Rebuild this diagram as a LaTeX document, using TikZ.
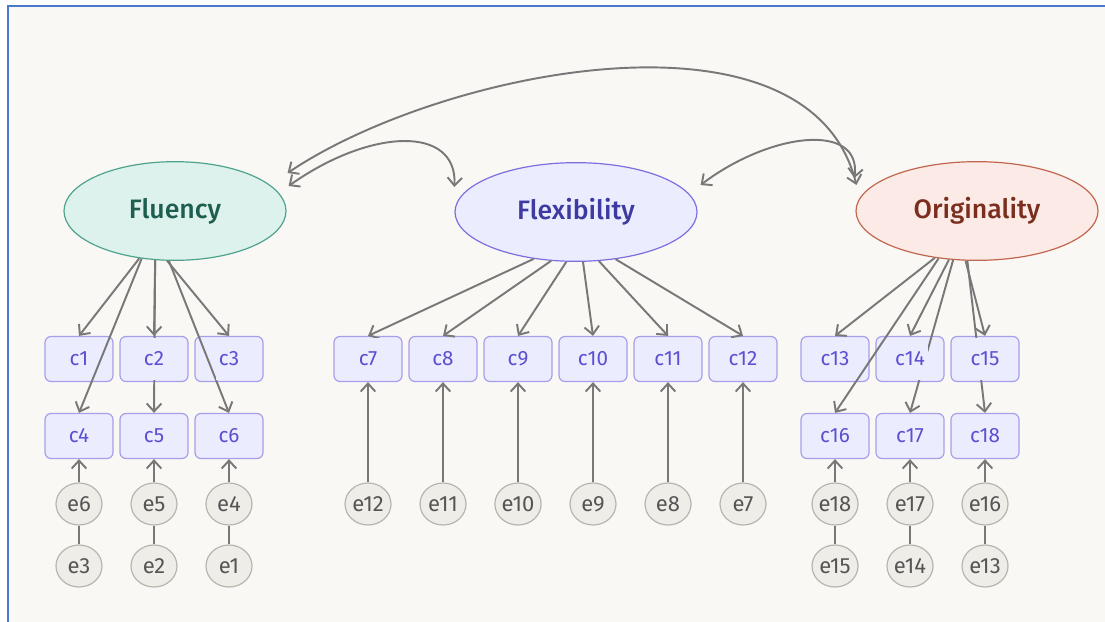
\documentclass[tikz,border=0pt]{standalone}
\usepackage{xcolor}
\usepackage{fontspec}
\setmainfont{Fira Sans}[BoldFont={Fira Sans Medium}]
\usepackage{tikz}
\usetikzlibrary{positioning, arrows.meta, shapes.geometric}

\definecolor{canvas}{HTML}{F9F8F5}
\definecolor{framecol}{HTML}{4A78CC}
\definecolor{flufill}{HTML}{DDF2EC}
\definecolor{fluline}{HTML}{4FA38D}
\definecolor{flutext}{HTML}{1E5E50}
\definecolor{flexfill}{HTML}{ECECFF}
\definecolor{flexline}{HTML}{7B6FE0}
\definecolor{flextext}{HTML}{3D3AA0}
\definecolor{origfill}{HTML}{FBEAE5}
\definecolor{origline}{HTML}{C2674F}
\definecolor{origtext}{HTML}{7A2E1E}
\definecolor{itemfill}{HTML}{ECECFF}
\definecolor{itemline}{HTML}{A79FEA}
\definecolor{itemtext}{HTML}{5A50D0}
\definecolor{errfill}{HTML}{EFEDE8}
\definecolor{errline}{HTML}{B8B5AE}
\definecolor{errtext}{HTML}{555555}
\definecolor{edgecol}{HTML}{787878}

\begin{document}
\begin{tikzpicture}[
    x=0.75pt, y=-0.75pt,
    % Define common styles
        latent/.style={draw, ellipse, line width=0.9pt, minimum width=181.5pt, minimum height=74pt, font=\fontsize{20}{24}\selectfont\bfseries},
        item/.style={draw=itemline, fill=itemfill, rectangle, rounded corners=4.5pt, line width=0.9pt, minimum width=51pt, minimum height=33.75pt},
        tag/.style={fill=itemfill, inner xsep=2.25pt, inner ysep=0pt, minimum height=31.5pt, text=itemtext, font=\fontsize{15.5}{18}\selectfont},
        err/.style={draw=errline, fill=errfill, ellipse, line width=0.9pt, inner sep=0pt, minimum width=34.5pt, minimum height=31.5pt, text=errtext, font=\fontsize{16.5}{19}\selectfont},
        arrow/.style={-{Straight Barb[length=6pt, width=11pt]}, draw=edgecol, line width=1.45pt},
        covar/.style={{Straight Barb[length=6pt, width=11pt]}-{Straight Barb[length=6pt, width=11pt]}, draw=edgecol, line width=1.45pt},
        link/.style={draw=edgecol, line width=1.45pt}
    ]

        % Page and canvas
        \useasboundingbox (0,0) rectangle (1105,621);
        \fill[white] (0,0) rectangle (1105,621);
        \fill[canvas] (8,6) rectangle (1115,630);
        \draw[framecol, line width=1.5pt] (1115,6) -- (8,6) -- (8,630);

        % Latent factors
        \node[latent, fill=flufill, draw=fluline, text=flutext, minimum width=166.5pt] (flu) at (175,211) {Fluency};
        \node[latent, fill=flexfill, draw=flexline, text=flextext] (flex) at (576,212) {Flexibility};
        \node[latent, fill=origfill, draw=origline, text=origtext] (orig) at (977,211) {Originality};

        % Fluency item boxes
        \node[item] (c1) at (79,359) {};
        \node[item] (c2) at (154,359) {};
        \node[item] (c3) at (229,359) {};
        \node[item] (c4) at (79,436) {};
        \node[item] (c5) at (154,436) {};
        \node[item] (c6) at (229,436) {};

        % Flexibility item boxes
        \node[item] (c7) at (368,359) {};
        \node[item] (c8) at (443,359) {};
        \node[item] (c9) at (518,359) {};
        \node[item] (c10) at (593,359) {};
        \node[item] (c11) at (668,359) {};
        \node[item] (c12) at (743,359) {};

        % Originality item boxes
        \node[item] (c13) at (835,359) {};
        \node[item] (c14) at (910,359) {};
        \node[item] (c15) at (985,359) {};
        \node[item] (c16) at (835,436) {};
        \node[item] (c17) at (910,436) {};
        \node[item] (c18) at (985,436) {};

        % Error terms
        \node[err] (e6) at (79,504) {e6};
        \node[err] (e5) at (154,504) {e5};
        \node[err] (e4) at (229,504) {e4};
        \node[err] (e3) at (79,566) {e3};
        \node[err] (e2) at (154,566) {e2};
        \node[err] (e1) at (229,566) {e1};
        \node[err] (e12) at (368,504) {e12};
        \node[err] (e11) at (443,504) {e11};
        \node[err] (e10) at (518,504) {e10};
        \node[err] (e9) at (593,504) {e9};
        \node[err] (e8) at (668,504) {e8};
        \node[err] (e7) at (743,504) {e7};
        \node[err] (e18) at (835,504) {e18};
        \node[err] (e17) at (910,504) {e17};
        \node[err] (e16) at (985,504) {e16};
        \node[err] (e15) at (835,566) {e15};
        \node[err] (e14) at (910,566) {e14};
        \node[err] (e13) at (985,566) {e13};

        % Draw factor loadings
        \draw[arrow] (flu.233) -- (c1.north);
        \draw[arrow] (flu.235) -- (c4.north);
        \draw[arrow] (flu.248) -- (c2.north);
        \draw[arrow] (flu.248) -- (c5.north);
        \draw[arrow] (flu.261) -- (c3.north);
        \draw[arrow] (flu.263) -- (c6.north);
        \draw[arrow] (flex.228) -- (c7.north);
        \draw[arrow] (flex.243) -- (c8.north);
        \draw[arrow] (flex.259) -- (c9.north);
        \draw[arrow] (flex.278) -- (c10.north);
        \draw[arrow] (flex.295) -- (c11.north);
        \draw[arrow] (flex.310) -- (c12.north);
        \draw[arrow] (orig.228) -- (c13.north);
        \draw[arrow] (orig.231) -- (c16.north);
        \draw[arrow] (orig.240) -- (c14.north);
        \draw[arrow] (orig.244) -- (c17.north);
        \draw[arrow] (orig.257) -- (c15.north);
        \draw[arrow] (orig.259) -- (c18.north);

        % Draw error arrows
        \draw[arrow] (e6) -- (c4);
        \draw[arrow] (e5) -- (c5);
        \draw[arrow] (e4) -- (c6);
        \draw[arrow] (e12) -- (c7);
        \draw[arrow] (e11) -- (c8);
        \draw[arrow] (e10) -- (c9);
        \draw[arrow] (e9) -- (c10);
        \draw[arrow] (e8) -- (c11);
        \draw[arrow] (e7) -- (c12);
        \draw[arrow] (e18) -- (c16);
        \draw[arrow] (e17) -- (c17);
        \draw[arrow] (e16) -- (c18);
        \draw[link] (e3) -- (e6);
        \draw[link] (e2) -- (e5);
        \draw[link] (e1) -- (e4);
        \draw[link] (e15) -- (e18);
        \draw[link] (e14) -- (e17);
        \draw[link] (e13) -- (e16);

        % Draw the factor covariances
        \draw[covar] ([shift={(1,-38)}]flu.east) .. controls +(153,-103) and +(-47,-190) .. ([shift={(1,-26)}]orig.west);
        \draw[covar] ([shift={(2,-25)}]flu.east) .. controls +(82,-58) and +(3,-62) .. ([shift={(0,-25)}]flex.west);
        \draw[covar] ([shift={(3,-27)}]flex.east) .. controls +(70,-53) and +(7,-56) .. ([shift={(-1,-33)}]orig.west);

        % Item labels, laid over the loadings that cross the boxes
        \node[tag] (t1) at (c1) {c1};
        \node[tag] (t2) at (c2) {c2};
        \node[tag] (t3) at (c3) {c3};
        \node[tag] (t4) at (c4) {c4};
        \node[tag] (t5) at (c5) {c5};
        \node[tag] (t6) at (c6) {c6};
        \node[tag] (t7) at (c7) {c7};
        \node[tag] (t8) at (c8) {c8};
        \node[tag] (t9) at (c9) {c9};
        \node[tag] (t10) at (c10) {c10};
        \node[tag] (t11) at (c11) {c11};
        \node[tag] (t12) at (c12) {c12};
        \node[tag] (t13) at (c13) {c13};
        \node[tag] (t14) at (c14) {c14};
        \node[tag] (t15) at (c15) {c15};
        \node[tag] (t16) at (c16) {c16};
        \node[tag] (t17) at (c17) {c17};
        \node[tag] (t18) at (c18) {c18};

    \end{tikzpicture}
\end{document}
